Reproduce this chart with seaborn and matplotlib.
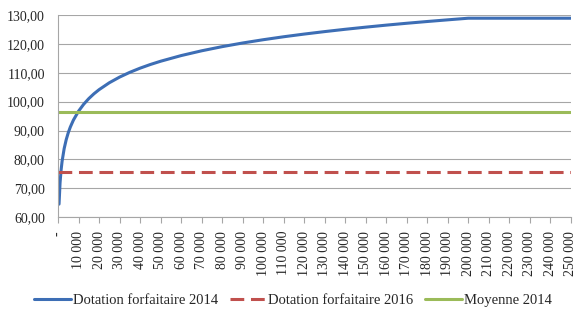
import matplotlib
matplotlib.use("Agg")
import matplotlib.pyplot as plt
import seaborn as sns
import pandas as pd

population = [0, 500, 1000, 1500, 2000, 3000, 4000, 5000, 6000, 7500, 10000, 12500,
              15000, 17500, 20000, 25000, 30000, 35000, 40000, 45000, 50000, 60000,
              70000, 80000, 90000, 100000, 110000, 120000, 130000, 140000, 150000,
              160000, 170000, 180000, 190000, 200000, 250000]
dotation_2014 = [64.46, 64.46, 71.92, 76.28, 79.38, 83.74, 86.83, 89.24, 91.20,
                 93.60, 96.69, 99.09, 101.06, 102.72, 104.15, 106.55, 108.51,
                 110.17, 111.61, 112.88, 114.01, 115.97, 117.63, 119.07, 120.34,
                 121.47, 122.50, 123.43, 124.29, 125.09, 125.83, 126.53, 127.18,
                 127.79, 128.37, 128.93, 128.93]
dotation_2016 = 75.6
moyenne_2014 = 96.5

tick_values = list(range(0, 250001, 10000))
tick_labels = ["-"] + [f"{v:,}".replace(",", " ") for v in tick_values[1:]]
y_ticks = [60, 70, 80, 90, 100, 110, 120, 130]
y_labels = [f"{v},00" for v in y_ticks]

sns.set_style("white")
plt.rcParams['font.family'] = ['Liberation Serif', 'DejaVu Serif']

fig = plt.figure(figsize=(5.86, 3.22), dpi=100)
ax = fig.add_axes([0.099, 0.326, 0.875, 0.627])

df = pd.DataFrame({"pop": population, "val": dotation_2014})
blue = "#3D6EB5"
red = "#C0504D"
green = "#9BBB59"

sns.lineplot(data=df, x="pop", y="val", ax=ax, color=blue, linewidth=2.2,
             label="Dotation forfaitaire 2014")
ax.axhline(dotation_2016, color=red, linewidth=2.2, linestyle=(0, (4.5, 2.2)),
           label="Dotation forfaitaire 2016")
ax.axhline(moyenne_2014, color=green, linewidth=2.2, label="Moyenne 2014")

ax.set_xlim(0, 250000)
ax.set_ylim(60, 130)
ax.set_yticks(y_ticks)
ax.set_yticklabels(y_labels, fontsize=10)
ax.set_xticks(tick_values)
ax.set_xticklabels(tick_labels, rotation=90, fontsize=10)
ax.set_xlabel("")
ax.set_ylabel("")

ax.grid(axis="y", color="#A6A6A6", linewidth=0.8)
ax.set_axisbelow(True)
for s in ["top", "right"]:
    ax.spines[s].set_visible(False)
for s in ["left", "bottom"]:
    ax.spines[s].set_color("#A6A6A6")
    ax.spines[s].set_linewidth(0.8)
ax.tick_params(axis="x", bottom=True, direction="out", length=4, color="#A6A6A6", pad=6)
ax.tick_params(axis="y", left=False, pad=6)

handles, labels = ax.get_legend_handles_labels()
ax.get_legend().remove()
fig.legend(handles, labels, loc="center", bbox_to_anchor=(0.5, 0.068), ncol=3,
           frameon=False, fontsize=10.5, handlelength=2.5, columnspacing=0.8,
           handletextpad=0.15)

fig.savefig("out.png", dpi=100)
